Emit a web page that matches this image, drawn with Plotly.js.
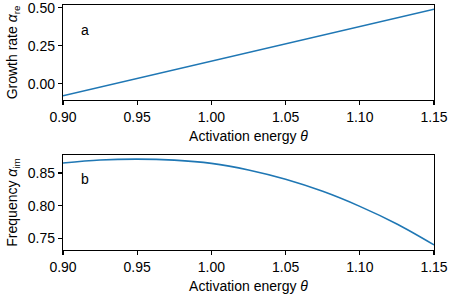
<!DOCTYPE html>
<html>
<head>
<meta charset="utf-8">
<script src="https://cdn.plot.ly/plotly-3.0.1.min.js"></script>
<style>html,body{margin:0;padding:0;background:#fff;}#chart{width:450px;height:300px;}</style>
</head>
<body>
<div id="chart"></div>
<script>
// Panel a: growth rate vs activation energy
const thetaA = [0.90, 0.95, 1.00, 1.05, 1.10, 1.15];
const growthRate = [-0.078, 0.035, 0.149, 0.263, 0.376, 0.490];
// Panel b: frequency vs activation energy
const thetaB = [0.900, 0.925, 0.950, 0.975, 1.000, 1.025, 1.050, 1.075, 1.100, 1.125, 1.150];
const frequency = [0.8654, 0.8700, 0.8714, 0.8698, 0.8648, 0.8548, 0.8405, 0.8220, 0.7990, 0.7720, 0.7400];
const xTicks = [0.90, 0.95, 1.00, 1.05, 1.10, 1.15];
const yTicksA = [0.00, 0.25, 0.50];
const yTicksB = [0.75, 0.80, 0.85];

const font = {family: 'Liberation Sans, Arial, sans-serif', size: 14, color: '#000'};
const lineColor = '#1f77b4';

const axisCommon = {
  showline: true, mirror: true, linecolor: '#000', linewidth: 1.2,
  ticks: 'outside', ticklen: 4, tickwidth: 1.2, tickcolor: '#000',
  showgrid: false, zeroline: false, tickformat: '.2f', tickfont: font,
  ticklabeloverflow: 'allow'
};

const traces = [
  {x: thetaA, y: growthRate, type: 'scatter', mode: 'lines', line: {color: lineColor, width: 1.6}, xaxis: 'x', yaxis: 'y', hoverinfo: 'skip'},
  {x: thetaB, y: frequency, type: 'scatter', mode: 'lines', line: {color: lineColor, width: 1.6, shape: 'spline', smoothing: 1}, xaxis: 'x2', yaxis: 'y2', hoverinfo: 'skip'}
];

const layout = {
  width: 450, height: 300,
  margin: {l: 63, r: 16, t: 5, b: 50},
  paper_bgcolor: '#fff', plot_bgcolor: '#fff',
  showlegend: false, font: font,
  xaxis: Object.assign({}, axisCommon, {domain: [0, 1], anchor: 'y', range: [0.90, 1.15], tickvals: xTicks,
    title: {text: 'Activation energy <i>θ</i>', font: font, standoff: 7}}),
  yaxis: Object.assign({}, axisCommon, {domain: [0.6122, 1], anchor: 'x', range: [-0.106, 0.518], tickvals: yTicksA,
    title: {text: 'Growth rate <i>α</i><sub>re</sub>', font: font, standoff: 6}}),
  xaxis2: Object.assign({}, axisCommon, {domain: [0, 1], anchor: 'y2', range: [0.90, 1.15], tickvals: xTicks,
    title: {text: 'Activation energy <i>θ</i>', font: font, standoff: 7}}),
  yaxis2: Object.assign({}, axisCommon, {domain: [0, 0.3878], anchor: 'x2', range: [0.7322, 0.8777], tickvals: yTicksB,
    title: {text: 'Frequency <i>α</i><sub>im</sub>', font: font, standoff: 6}}),
  annotations: [
    {text: 'a', xref: 'paper', yref: 'paper', x: 0.059, y: 0.898, xanchor: 'center', yanchor: 'middle', showarrow: false, font: font},
    {text: 'b', xref: 'paper', yref: 'paper', x: 0.059, y: 0.29, xanchor: 'center', yanchor: 'middle', showarrow: false, font: font}
  ]
};

Plotly.newPlot('chart', traces, layout, {staticPlot: true, displayModeBar: false});
</script>
</body>
</html>
